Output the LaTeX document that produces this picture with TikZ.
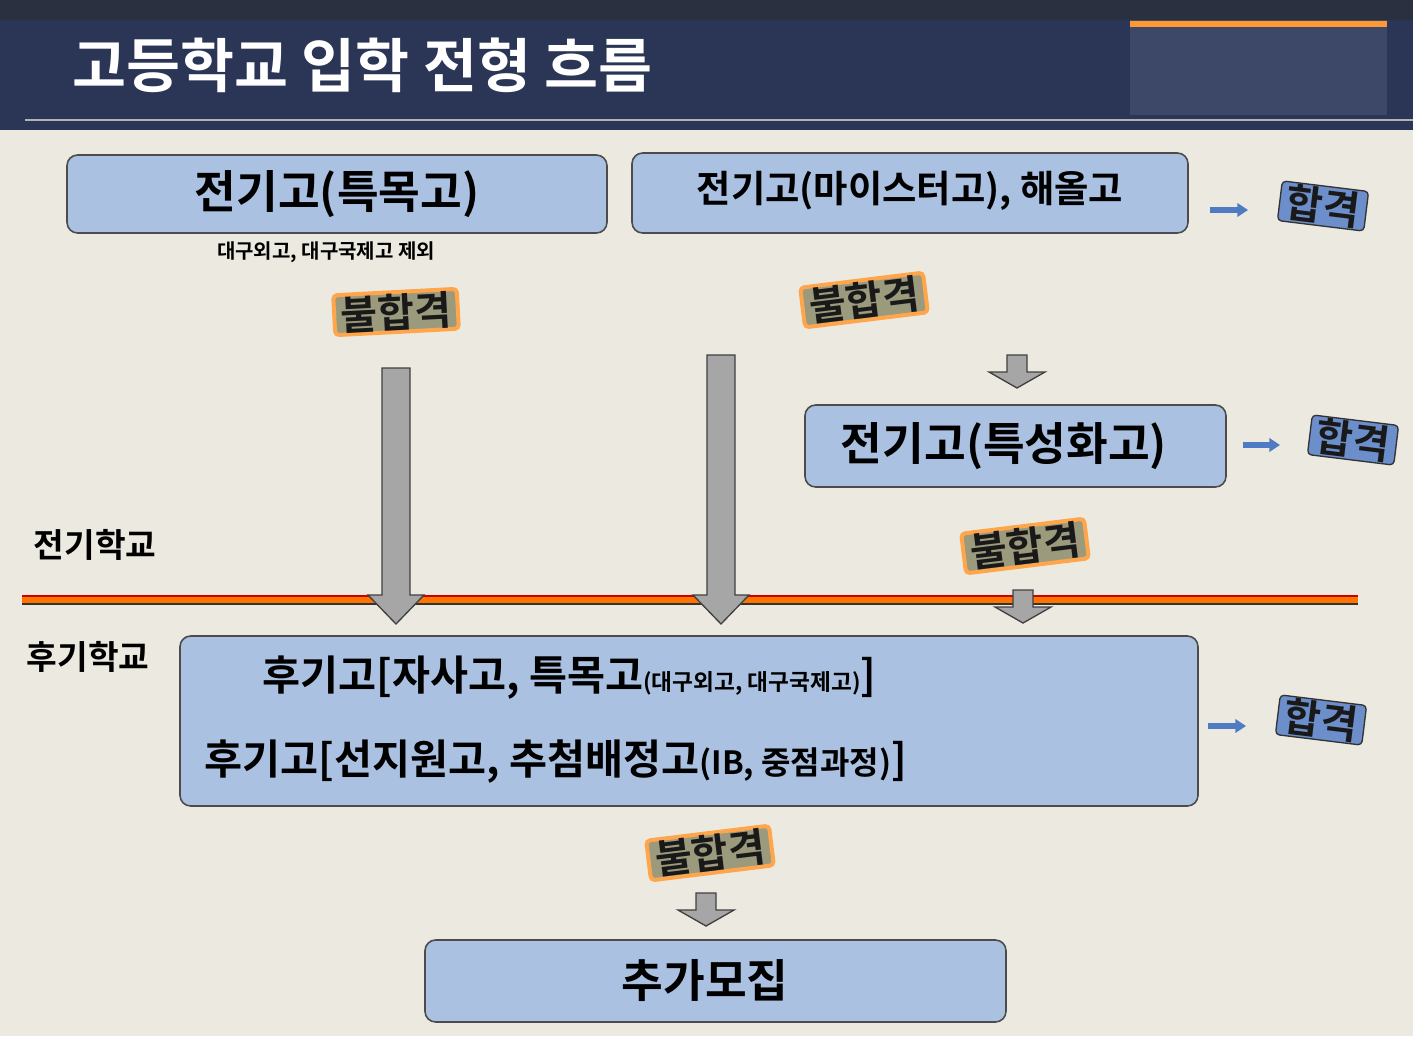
\documentclass[tikz,border=0pt]{standalone}
\usepackage{fontspec}
\setmainfont{Noto Sans CJK KR}[BoldFont={* Bold}]
\usetikzlibrary{arrows.meta}
\definecolor{bg}{HTML}{ECEAE0}
\definecolor{navy}{HTML}{2B3556}
\definecolor{navytop}{HTML}{2A3040}
\definecolor{navybox}{HTML}{3D4868}
\definecolor{boxblue}{HTML}{AAC1E2}
\definecolor{tagolive}{HTML}{9C9A7C}
\definecolor{tagblue}{HTML}{6C8ECA}
\definecolor{arrblue}{HTML}{4F7BC4}
\tikzset{
 x=0.75pt,y=-0.75pt,
 box/.style={draw=black!70,line width=1.2pt,fill=boxblue,rounded corners=8pt},
 failtag/.style={fill=tagolive,draw=orange!70,line width=3pt,rounded corners=3pt,font=\bfseries\fontsize{30}{30}\selectfont,inner xsep=5pt,inner ysep=1pt,text=black!90},
 passtag/.style={fill=tagblue,draw=black!80,line width=1pt,rounded corners=3pt,rotate=-7,font=\bfseries\fontsize{30}{30}\selectfont,inner xsep=5pt,inner ysep=1pt,text=black!90},
 bigarr/.style={fill=gray!70,draw=black!75,line width=1pt},
 bluearr/.style={-{Triangle[length=8pt,width=10pt]},line width=4pt,draw=arrblue},
}
\begin{document}
\begin{tikzpicture}
\useasboundingbox (0,0) rectangle (1413,1036);
\fill[bg] (0,0) rectangle (1413,1036);
\fill[navy] (0,0) rectangle (1413,130);
\fill[navytop] (0,0) rectangle (1413,20);
\fill[navybox] (1130,20) rectangle (1387,115);
\draw[orange!80,line width=4pt] (1130,24) -- (1387,24);
\draw[gray!60,line width=1.5pt] (25,120) -- (1413,120);
\node[text=white,font=\bfseries\fontsize{44}{44}\selectfont,anchor=west] (title) at (68,65) {고등학교 입학 전형 흐름};

\draw[box] (67,155) rectangle (607,233);
\node[font=\bfseries\fontsize{34}{34}\selectfont] (b1) at (337,194) {전기고(특목고)};
\node[font=\bfseries\fontsize{15}{15}\selectfont] (sub) at (326,252) {대구외고, 대구국제고 제외};
\draw[box] (632,153) rectangle (1188,233);
\node[font=\bfseries\fontsize{28}{28}\selectfont] (b2) at (910,191) {전기고(마이스터고), 해올고};
\draw[box] (805,405) rectangle (1226,487);
\node[font=\bfseries\fontsize{34}{34}\selectfont] (b3) at (1004,446) {전기고(특성화고)};
\draw[box] (180,636) rectangle (1198,806);
\node[font=\bfseries\fontsize{31}{31}\selectfont,anchor=west] (l1) at (258,678) {후기고[자사고, 특목고{\fontsize{17}{17}\selectfont(대구외고, 대구국제고)}]};
\node[font=\bfseries\fontsize{31}{31}\selectfont,anchor=west] (l2) at (200,762) {후기고[선지원고, 추첨배정고{\fontsize{24}{24}\selectfont(IB, 중점과정)}]};
\draw[box] (425,940) rectangle (1006,1022);
\node[font=\bfseries\fontsize{34}{34}\selectfont] (b5) at (705,981) {추가모집};

\node[failtag,rotate=3] (f1) at (396,312) {불합격};
\node[failtag,rotate=7] (f2) at (864,300) {불합격};
\node[failtag,rotate=7] (f3) at (1025,546) {불합격};
\node[failtag,rotate=7] (f4) at (710,853) {불합격};

\node[passtag] (p1) at (1323,206) {합격};
\node[passtag] (p2) at (1353,440) {합격};
\node[passtag] (p3) at (1321,720) {합격};
\coordinate (a1s) at (1210,210); \coordinate (a1e) at (1248,210);
\coordinate (a2s) at (1243,445); \coordinate (a2e) at (1280,445);
\coordinate (a3s) at (1208,726); \coordinate (a3e) at (1246,726);
\draw[bluearr] (a1s) -- (a1e);
\draw[bluearr] (a2s) -- (a2e);
\draw[bluearr] (a3s) -- (a3e);

\draw[line width=5pt,orange!90!red] (22,600) -- (1358,600);
\draw[line width=1.2pt,black!80] (22,604) -- (1358,604);
\draw[line width=1.5pt,red!80!black] (22,596) -- (1358,596);

\node[font=\bfseries\fontsize{25}{25}\selectfont] (lab1) at (95,545) {전기학교};
\node[font=\bfseries\fontsize{25}{25}\selectfont] (lab2) at (88,657) {후기학교};

\draw[bigarr] (382,368) -- (410,368) -- (410,595) -- (424,595) -- (396,624) -- (368,595) -- (382,595) -- cycle;
\draw[bigarr] (707,355) -- (735,355) -- (735,595) -- (749,595) -- (721,624) -- (693,595) -- (707,595) -- cycle;
\draw[bigarr] (1007,355) -- (1027,355) -- (1027,372) -- (1045,372) -- (1017,388) -- (989,372) -- (1007,372) -- cycle;
\draw[bigarr] (1013,590) -- (1033,590) -- (1033,607) -- (1051,607) -- (1023,623) -- (995,607) -- (1013,607) -- cycle;
\draw[bigarr] (696,893) -- (716,893) -- (716,910) -- (734,910) -- (706,926) -- (678,910) -- (696,910) -- cycle;
\end{tikzpicture}
\end{document}
